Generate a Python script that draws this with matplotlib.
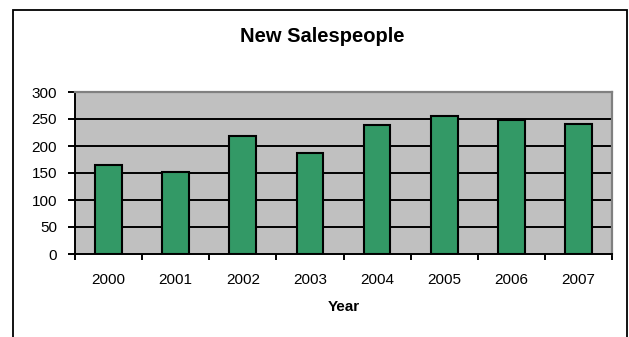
import numpy as np
import matplotlib
matplotlib.use("Agg")
import matplotlib.pyplot as plt
from matplotlib.patches import Rectangle

years = ["2000", "2001", "2002", "2003", "2004", "2005", "2006", "2007"]
new_sales = [165, 152, 219, 187, 239, 255, 248, 241]
y_ticks = [0, 50, 100, 150, 200, 250, 300]

W, H = 629, 337
plt.rcParams["font.family"] = ["Liberation Sans", "DejaVu Sans"]

fig = plt.figure(figsize=(W / 100, H / 100), dpi=100)

# outer chart frame
fig.patches.append(Rectangle((13 / W, -0.05), 614 / W, 1.05 - 10 / H,
                             transform=fig.transFigure, fill=False,
                             edgecolor="black", linewidth=1.3))

ax = fig.add_axes([75 / W, (H - 254) / H, 537 / W, 162 / H])
ax.set_facecolor("#C0C0C0")

x = np.arange(len(years))
ax.bar(x, new_sales, width=0.4, color="#339966", edgecolor="black",
       linewidth=1.5, zorder=3)

ax.set_xlim(-0.5, len(years) - 0.5)
ax.set_ylim(0, 300)
ax.set_yticks(y_ticks)
ax.set_yticklabels([str(v) for v in y_ticks], fontsize=11)
for v in y_ticks[1:-1]:
    ax.axhline(v, color="black", linewidth=1.4, zorder=1)

ax.set_xticks(x)
ax.set_xticklabels(years, fontsize=11)
ax.set_xticks(np.arange(-0.5, len(years)), minor=True)
ax.tick_params(axis="x", which="major", length=0, pad=14)
ax.tick_params(axis="x", which="minor", length=4, width=1.4, direction="out")
ax.tick_params(axis="y", length=5, width=1.4, direction="out", pad=8)

for side in ["top", "right"]:
    ax.spines[side].set_color("#808080")
    ax.spines[side].set_linewidth(1.6)
for side in ["left", "bottom"]:
    ax.spines[side].set_color("black")
    ax.spines[side].set_linewidth(1.4)

ax.set_xlabel("Year", fontsize=11, fontweight="bold", labelpad=9)
fig.text(322 / W, 1 - 37 / H, "New Salespeople", fontsize=14.5,
         fontweight="bold", ha="center", va="center")

fig.savefig("out.png", dpi=100)
